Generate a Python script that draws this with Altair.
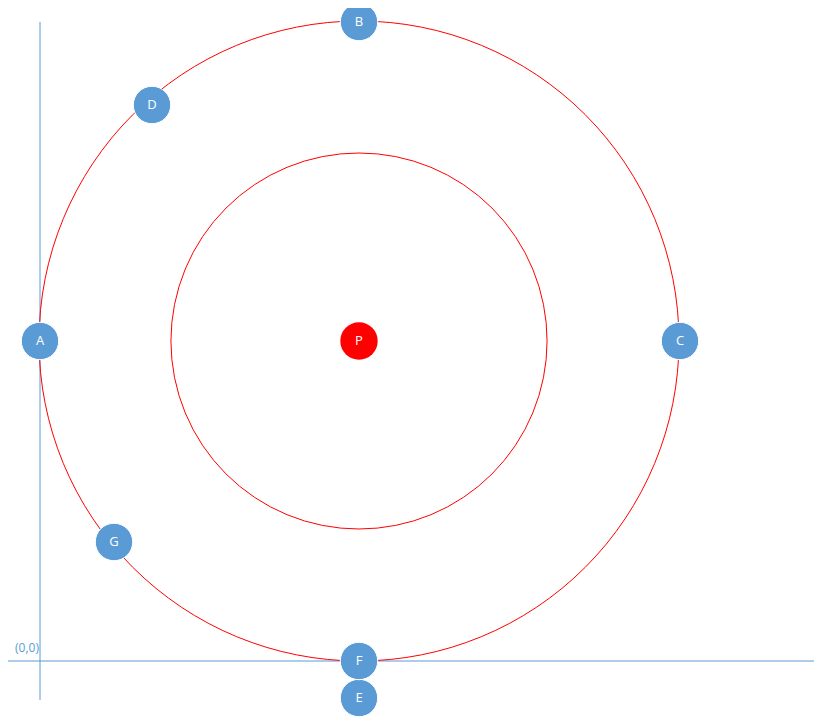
import altair as alt
import pandas as pd

# node positions (units with the origin at the axes crossing, y upwards)
names = ["A", "B", "C", "D", "E", "F", "G"]
node_x = [0, 319, 640, 112, 319, 319, 74]
node_y = [320, 639, 320, 556, -37, 0, 119]

centre_x = [319]
centre_y = [320]
ring_radii = [320, 188]

nodes = pd.DataFrame({"name": names, "x": node_x, "y": node_y})
centre = pd.DataFrame({"name": ["P"], "x": centre_x, "y": centre_y})
axes_lines = pd.DataFrame({
    "x": [-38, 0], "x2": [782, 0],
    "y": [0, 639], "y2": [0, -39],
})
origin = pd.DataFrame({"x": [-13], "y": [13], "label": ["(0,0)"]})

W, H = 806, 709
xs = alt.Scale(domain=[-32, 774], nice=False, zero=False)
ys = alt.Scale(domain=[-56, 653], nice=False, zero=False)
X = lambda f="x": alt.X(f, type="quantitative", scale=xs, axis=None)
Y = lambda f="y": alt.Y(f, type="quantitative", scale=ys, axis=None)

blue = "#5B9BD5"

axis_rules = alt.Chart(axes_lines).mark_rule(color=blue, strokeWidth=1).encode(
    x=X(), x2="x2", y=Y(), y2="y2"
)

ring_marks = [
    alt.Chart(centre).mark_arc(
        fill=None, stroke="red", strokeWidth=1, theta=0, theta2=6.2832, radius=r
    ).encode(x=X(), y=Y())
    for r in ring_radii
]

origin_text = alt.Chart(origin).mark_text(
    color=blue, fontSize=12, font="Open Sans"
).encode(x=X(), y=Y(), text="label")

node_dots = alt.Chart(nodes).mark_circle(
    size=1400, color=blue, opacity=1, stroke="white", strokeWidth=1
).encode(x=X(), y=Y())
node_text = alt.Chart(nodes).mark_text(
    color="white", fontSize=13, font="Open Sans"
).encode(x=X(), y=Y(), text="name")

centre_dot = alt.Chart(centre).mark_circle(
    size=1400, color="#FF0000", opacity=1
).encode(x=X(), y=Y())
centre_text = alt.Chart(centre).mark_text(
    color="white", fontSize=13, font="Open Sans"
).encode(x=X(), y=Y(), text="name")

chart = alt.layer(
    axis_rules, *ring_marks, origin_text, node_dots, node_text, centre_dot, centre_text
).properties(
    width=W, height=H, padding=0, autosize="none"
).configure_view(stroke=None)

chart.save("out.html", embed_options={"renderer": "svg", "actions": False})
